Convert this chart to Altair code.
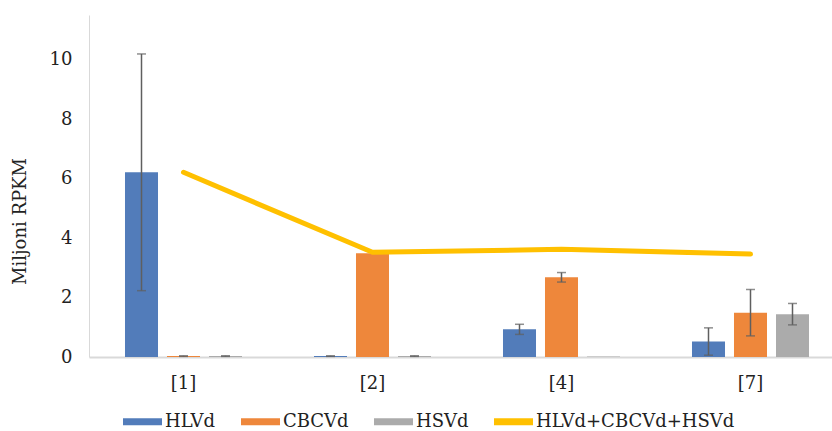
import altair as alt
import pandas as pd

# Sample groups on the x axis
categories = ["[1]", "[2]", "[4]", "[7]"]
series = ["HLVd", "CBCVd", "HSVd"]
total_label = "HLVd+CBCVd+HSVd"

# Mean values (million RPKM) and their error margins
hlvd = [6.21, 0.03, 0.93, 0.52]
hlvd_err = [3.98, 0.01, 0.17, 0.46]
cbcvd = [0.03, 3.49, 2.68, 1.49]
cbcvd_err = [0.01, 0.0, 0.16, 0.78]
hsvd = [0.03, 0.03, 0.02, 1.44]
hsvd_err = [0.01, 0.01, 0.0, 0.36]

# Combined viroid load per group
total = [6.21, 3.52, 3.62, 3.46]

colors = ["#527cba", "#ee873b", "#ababab", "#ffc000"]
y_ticks = [0, 2, 4, 6, 8, 10]

FONT = "DejaVu Serif"
FS = 18
TEXT = "#222222"

rows = []
for name, vals, errs in [("HLVd", hlvd, hlvd_err), ("CBCVd", cbcvd, cbcvd_err), ("HSVd", hsvd, hsvd_err)]:
    for cat, v, e in zip(categories, vals, errs):
        rows.append({"cat": cat, "series": name, "value": v, "err": e,
                     "lo": v - e, "hi": v + e})
bars_df = pd.DataFrame(rows)
line_df = pd.DataFrame({"cat": categories, "total": total})

x_enc = alt.X("cat:N", sort=categories,
              scale=alt.Scale(paddingInner=0, paddingOuter=0, range=[0, 756]),
              axis=alt.Axis(title=None, labelAngle=0, ticks=False, tickSize=0,
                            labelFont=FONT, labelFontSize=FS, labelColor=TEXT,
                            labelBaseline="middle", labelPadding=26,
                            domainColor="#d9d9d9", domainWidth=2))
xoff_enc = alt.XOffset("series:N", sort=series,
                       scale=alt.Scale(domain=series, paddingInner=0.214, paddingOuter=0.857))
y_scale = alt.Scale(domain=[0, 11.5], nice=False)
y_axis = alt.Axis(title="Miljoni RPKM", values=y_ticks, grid=False, ticks=False, tickSize=0,
                  labelFont=FONT, labelFontSize=FS, labelColor=TEXT, labelPadding=17,
                  domainColor="#d9d9d9", domainWidth=1,
                  titleFont=FONT, titleFontSize=FS, titleFontWeight="normal", titleColor=TEXT,
                  titleAngle=270, titleAlign="center", titleBaseline="middle",
                  titleX=-69, titleY=206)

legend_symbol = "M-1,-0.18H1V0.18H-1Z"

bars = alt.Chart(bars_df).mark_bar().encode(
    x=x_enc,
    xOffset=xoff_enc,
    y=alt.Y("value:Q", scale=y_scale, axis=y_axis),
    color=alt.Color("series:N",
                    scale=alt.Scale(domain=series + [total_label], range=colors),
                    legend=alt.Legend(title=None, orient="none", direction="horizontal",
                                      legendX=34, legendY=387,
                                      symbolType=legend_symbol, symbolSize=1521,
                                      symbolStrokeWidth=0, symbolOpacity=1,
                                      labelFont=FONT, labelFontSize=FS, labelColor=TEXT,
                                      labelLimit=400, labelOffset=3, columnPadding=25)),
)

err_base = alt.Chart(bars_df).transform_filter("datum.err > 0")

err_rule = err_base.mark_rule(color="#5f5f5f", strokeWidth=1.5).encode(
    x=alt.X("cat:N", sort=categories),
    xOffset=xoff_enc,
    y=alt.Y("lo:Q", scale=y_scale),
    y2="hi:Q",
)
cap_hi = err_base.mark_tick(color="#5f5f5f", thickness=1.5, size=9).encode(
    x=alt.X("cat:N", sort=categories),
    xOffset=xoff_enc,
    y=alt.Y("hi:Q", scale=y_scale),
)
cap_lo = err_base.mark_tick(color="#5f5f5f", thickness=1.5, size=9).encode(
    x=alt.X("cat:N", sort=categories),
    xOffset=xoff_enc,
    y=alt.Y("lo:Q", scale=y_scale),
)

line = alt.Chart(line_df).mark_line(color="#ffc000", strokeWidth=5, strokeCap="round",
                                    strokeJoin="round").encode(
    x=alt.X("cat:N", sort=categories),
    y=alt.Y("total:Q", scale=y_scale),
)

chart = alt.layer(bars, err_rule, cap_hi, cap_lo, line).properties(
    width=743,
    height=342,
    autosize=alt.AutoSizeParams(type="none"),
    padding={"left": 89, "top": 15, "right": 0, "bottom": 74},
    background="white",
).configure_view(stroke=None)

chart.save("out.html", embed_options={"renderer": "svg", "actions": False})
